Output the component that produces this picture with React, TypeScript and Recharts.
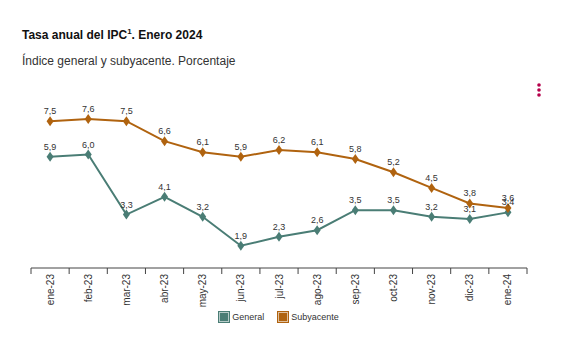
import React from 'react';
import { LineChart, Line, XAxis, YAxis, Legend, LabelList } from 'recharts';

const meses = ['ene-23', 'feb-23', 'mar-23', 'abr-23', 'may-23', 'jun-23', 'jul-23', 'ago-23', 'sep-23', 'oct-23', 'nov-23', 'dic-23', 'ene-24'];
const general = [5.9, 6.0, 3.3, 4.1, 3.2, 1.9, 2.3, 2.6, 3.5, 3.5, 3.2, 3.1, 3.4];
const subyacente = [7.5, 7.6, 7.5, 6.6, 6.1, 5.9, 6.2, 6.1, 5.8, 5.2, 4.5, 3.8, 3.6];

const data = meses.map((mes, i) => ({ mes, general: general[i], subyacente: subyacente[i] }));

const W = 573;
const H = 353;
const AXIS_H = 40;
const margin = { top: 110, right: 46, left: 31, bottom: 85 - AXIS_H };
const halfBand = (W - margin.left - margin.right) / meses.length / 2;

const fmt = (v: any) => Number(v).toFixed(1).replace('.', ',');

const Diamond = (color: string) => (props: any) => {
  const { cx, cy, index } = props;
  if (cx == null || cy == null) return null;
  return (
    <polygon
      key={index}
      points={`${cx},${cy - 5} ${cx + 3.5},${cy} ${cx},${cy + 5} ${cx - 3.5},${cy}`}
      fill={color}
    />
  );
};

const MonthTick = (props: any) => {
  const { x, y, payload, index } = props;
  const top = y - 8;
  return (
    <g>
      <line x1={x - halfBand} y1={top} x2={x - halfBand} y2={top + 6} stroke="#444" />
      {index === meses.length - 1 && (
        <line x1={x + halfBand} y1={top} x2={x + halfBand} y2={top + 6} stroke="#444" />
      )}
      <text
        x={x}
        y={top + 6}
        transform={`rotate(-90, ${x}, ${top + 6})`}
        textAnchor="end"
        dominantBaseline="central"
        fontSize={10}
        fill="#333"
      >
        {payload.value}
      </text>
    </g>
  );
};

const LegendContent = (props: any) => {
  const { payload = [] } = props;
  return (
    <div style={{ display: 'flex', justifyContent: 'center', alignItems: 'center' }}>
      {payload.map((p: any, i: number) => (
        <div key={i} style={{ display: 'flex', alignItems: 'center', marginLeft: i > 0 ? 14 : 0 }}>
          <span style={{ display: 'inline-block', width: 8, height: 8, background: p.color, border: '1px solid rgba(255,255,255,0.6)', outline: `1px solid ${p.color}`, marginRight: 3 }} />
          <span style={{ fontSize: 9, color: '#333' }}>{p.value}</span>
        </div>
      ))}
    </div>
  );
};

const App = () => {
  return (
    <div style={{ position: 'absolute', left: 0, top: 0, width: W, height: H, background: '#fff', fontFamily: '"Liberation Sans", Arial, sans-serif' }}>
      <div style={{ position: 'absolute', left: 22, top: 27, fontSize: 12, fontWeight: 'bold', color: '#111' }}>
        Tasa anual del IPC<sup style={{ fontSize: 8 }}>1</sup>. Enero 2024
      </div>
      <div style={{ position: 'absolute', left: 22, top: 54, fontSize: 12, color: '#333' }}>
        Índice general y subyacente. Porcentaje
      </div>
      <svg style={{ position: 'absolute', left: 534, top: 80 }} width={10} height={20}>
        <circle cx={5} cy={5} r={1.8} fill="#b5004b" />
        <circle cx={5} cy={10} r={1.8} fill="#b5004b" />
        <circle cx={5} cy={15} r={1.8} fill="#b5004b" />
      </svg>
      <div style={{ position: 'absolute', left: 0, top: 0 }}>
        <LineChart width={W} height={H} data={data} margin={margin}>
          <XAxis
            dataKey="mes"
            interval={0}
            tickLine={false}
            axisLine={{ stroke: '#444' }}
            tick={<MonthTick />}
            height={AXIS_H}
            padding={{ left: halfBand, right: halfBand }}
          />
          <YAxis hide domain={[0.9, 8]} />
          <Legend
            verticalAlign="middle"
            align="center"
            content={<LegendContent />}
            wrapperStyle={{ top: 312 }}
          />
          <Line
            dataKey="general"
            name="General"
            stroke="#4a7d75"
            strokeWidth={2}
            dot={Diamond('#4a7d75')}
            activeDot={false}
            isAnimationActive={false}
          >
            <LabelList dataKey="general" position="top" offset={7} formatter={fmt} fontSize={9} fill="#333" />
          </Line>
          <Line
            dataKey="subyacente"
            name="Subyacente"
            stroke="#b0630f"
            strokeWidth={2}
            dot={Diamond('#b0630f')}
            activeDot={false}
            isAnimationActive={false}
          >
            <LabelList dataKey="subyacente" position="top" offset={7} formatter={fmt} fontSize={9} fill="#333" />
          </Line>
        </LineChart>
      </div>
    </div>
  );
};

export default App;
